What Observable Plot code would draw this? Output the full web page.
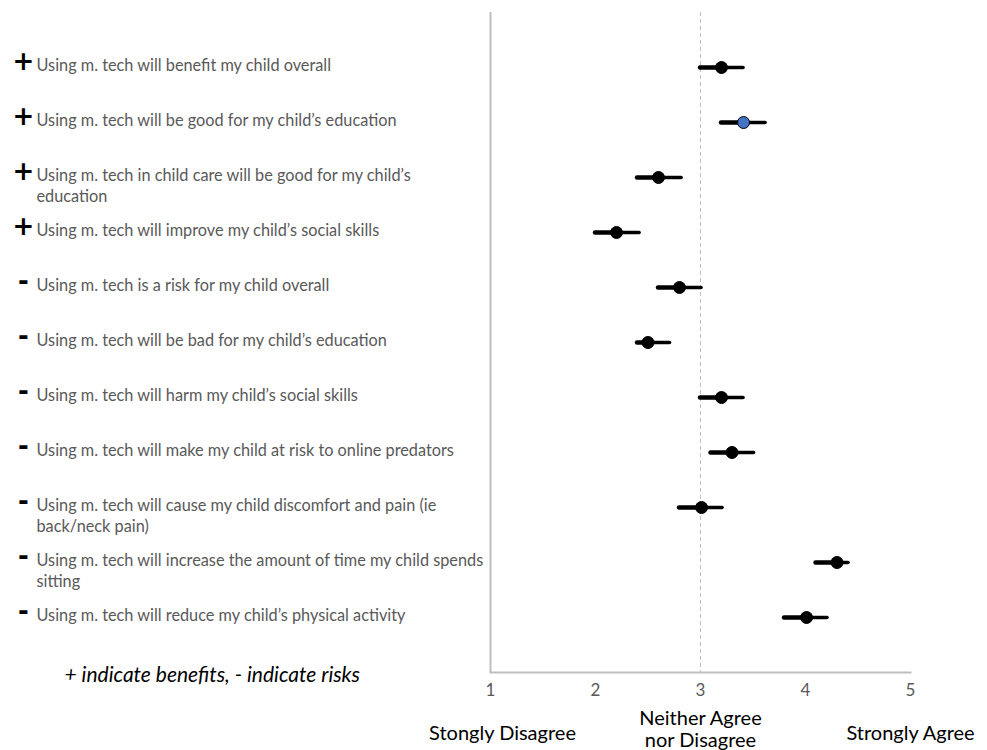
<!DOCTYPE html>
<html>
<head>
<meta charset="utf-8">
<script src="https://cdn.jsdelivr.net/npm/d3@7"></script>
<script src="https://cdn.jsdelivr.net/npm/@observablehq/plot@0.6"></script>
<style>
  html, body { margin: 0; padding: 0; background: #fff; }
  #chart svg { display: block; }
</style>
</head>
<body>
<div id="chart"></div>
<script>
// Survey items (top to bottom)
const items = [
  "Using m. tech will benefit my child overall",
  "Using m. tech will be good for my child\u2019s education",
  "Using m. tech in child care will be good for my child\u2019s\neducation",
  "Using m. tech will improve my child\u2019s social skills",
  "Using m. tech is a risk for my child overall",
  "Using m. tech will be bad for my child\u2019s education",
  "Using m. tech will harm my child\u2019s social skills",
  "Using m. tech will make my child at risk to online predators",
  "Using m. tech will cause my child discomfort and pain (ie\nback/neck pain)",
  "Using m. tech will increase the amount of time my child spends\nsitting",
  "Using m. tech will reduce my child\u2019s physical activity"
];
const signs = ["+", "+", "+", "+", "-", "-", "-", "-", "-", "-", "-"];
const means = [3.20, 3.41, 2.60, 2.20, 2.80, 2.50, 3.20, 3.30, 3.01, 4.30, 4.01];
const lower = [3.00, 3.20, 2.40, 2.00, 2.60, 2.40, 3.00, 3.10, 2.80, 4.10, 3.80];
const upper = [3.41, 3.62, 2.82, 2.42, 3.01, 2.71, 3.41, 3.51, 3.21, 4.41, 4.21];
const highlighted = [false, true, false, false, false, false, false, false, false, false, false];

const xTicks = [1, 2, 3, 4, 5];
const anchorValues = [1, 3, 5];
const anchorLabels = ["Stongly Disagree", "Neither Agree\nnor Disagree", "Strongly Agree"];
const noteText = "+ indicate benefits, - indicate risks";

const rows = items.map((item, i) => ({
  item, sign: signs[i], mean: means[i], lo: lower[i], hi: upper[i],
  fill: highlighted[i] ? "#4472C4" : "#000000"
}));
const anchors = anchorValues.map((v, i) => ({v, label: anchorLabels[i]}));

const font = "Lato, 'Open Sans', sans-serif";

const chart = Plot.plot({
  width: 987,
  height: 750,
  marginLeft: 490,
  marginRight: 77,
  marginTop: 12,
  marginBottom: 78,
  style: {fontFamily: font, background: "#fff", overflow: "visible"},
  x: {domain: [1, 5], axis: null},
  y: {type: "point", domain: items, padding: 1, axis: null},
  color: {type: "identity"},
  marks: [
    Plot.ruleX([3], {stroke: "#bfbfbf", strokeWidth: 1, strokeDasharray: "4,3"}),
    Plot.ruleX([1], {stroke: "#bfbfbf", strokeWidth: 2}),
    Plot.frame({anchor: "bottom", stroke: "#bfbfbf", strokeWidth: 2}),
    Plot.text(xTicks, {x: d => d, text: d => String(d), frameAnchor: "bottom", dy: 23, fontSize: 17, fill: "#595959"}),
    Plot.text(anchors.filter(d => d.v === 1), {x: "v", text: "label", frameAnchor: "bottom", dy: 67, dx: 12, fontSize: 20, fill: "#000"}),
    Plot.text(anchors.filter(d => d.v === 5), {x: "v", text: "label", frameAnchor: "bottom", dy: 67, fontSize: 20, fill: "#000"}),
    Plot.text(anchors.filter(d => d.v === 3), {x: "v", text: "label", frameAnchor: "bottom", dy: 74, fontSize: 20, fill: "#000", lineHeight: 1.1}),
    Plot.text([noteText], {text: d => d, frameAnchor: "bottom-left", dx: -426, dy: 9, textAnchor: "start", fontSize: 21, fontStyle: "italic", fill: "#000"}),
    Plot.text(rows, {y: "item", text: "item", frameAnchor: "left", dx: -454, dy: -12, textAnchor: "start", lineAnchor: "top", lineHeight: 1.3, fontSize: 16.3, fill: "#595959"}),
    Plot.text(rows, {y: "item", text: "sign", frameAnchor: "left", dx: -467, dy: -6, textAnchor: "middle", fontSize: 26, fontWeight: "bold", fill: "#000", fontFamily: "DejaVu Sans"}),
    Plot.ruleY(rows, {y: "item", x1: "lo", x2: "mean", stroke: "#000", strokeWidth: 4.5, strokeLinecap: "round"}),
    Plot.ruleY(rows, {y: "item", x1: "mean", x2: "hi", stroke: "#000", strokeWidth: 3.5, strokeLinecap: "round"}),
    Plot.dot(rows, {x: "mean", y: "item", r: 6, fill: "fill", stroke: "#000", strokeWidth: 1})
  ]
});
document.getElementById("chart").appendChild(chart);
</script>
</body>
</html>
